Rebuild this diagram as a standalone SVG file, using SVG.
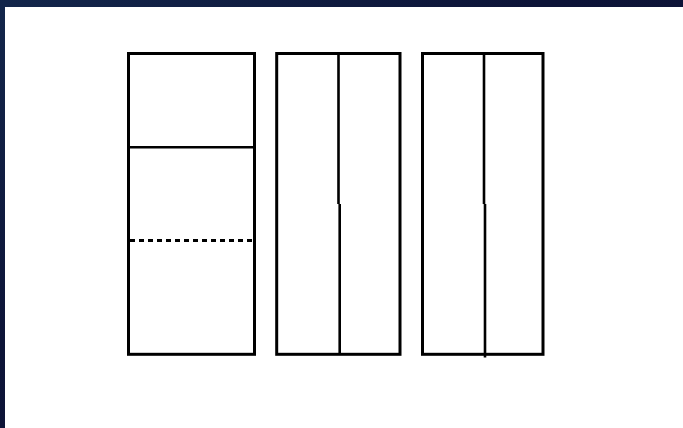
<svg xmlns="http://www.w3.org/2000/svg" width="683" height="428" viewBox="0 0 683 428">
<defs>
<linearGradient id="bg" x1="0" y1="0" x2="1" y2="1">
<stop offset="0" stop-color="#13264b"/>
<stop offset="0.4" stop-color="#0d1438"/>
<stop offset="1" stop-color="#0b1133"/>
</linearGradient>
<style>
.box{fill:#ffffff;stroke:#000000;stroke-width:3}
.ln{fill:none;stroke:#000000;stroke-width:2.6}
.dash{fill:none;stroke:#000000;stroke-width:3;stroke-dasharray:5 4}
</style>
</defs>
<rect x="0" y="0" width="683" height="428" fill="url(#bg)"/>
<rect x="5" y="7" width="678" height="421" fill="#ffffff"/>
<g id="panel1">
<rect class="box" x="128.5" y="53.5" width="126" height="300.8"/>
<line class="ln" x1="128.5" y1="147.3" x2="254.5" y2="147.3"/>
<line class="dash" x1="130" y1="240.5" x2="254" y2="240.5"/>
</g>
<g id="panel2">
<rect class="box" x="276.7" y="53.5" width="123.3" height="300.8"/>
<path class="ln" d="M338.5 53.5 V204 M339.7 204 V354.3"/>
</g>
<g id="panel3">
<rect class="box" x="422.5" y="53.5" width="120.5" height="300.8"/>
<path class="ln" d="M484 53.5 V204 M485 204 V357.5"/>
</g>
<g id="connectors"></g>
</svg>
